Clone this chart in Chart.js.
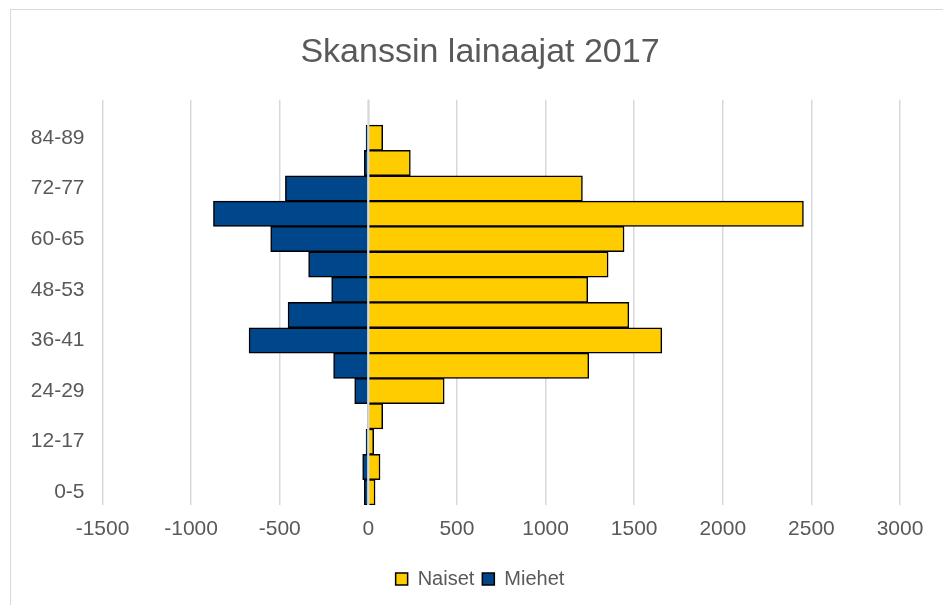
<!DOCTYPE html>
<html>
<head>
<meta charset="utf-8">
<script src="https://cdn.jsdelivr.net/npm/chart.js@4"></script>
<style>
  html, body { margin: 0; padding: 0; background: #fff; overflow: hidden; }
  #frame { position: absolute; left: 10px; top: 9px; width: 960px; height: 620px; border: 1px solid #d9d9d9; }
  #wrap { position: absolute; left: 0; top: 0; width: 960px; height: 605px; }
</style>
</head>
<body>
<div id="frame"></div>
<div id="wrap"><canvas id="pyramid"></canvas></div>
<script>
// ikäryhmät alhaalta ylös
const ageGroups = ['0-5', '6-11', '12-17', '18-23', '24-29', '30-35', '36-41', '42-47',
  '48-53', '54-59', '60-65', '66-71', '72-77', '78-83', '84-89', '90-95'];

const naiset = [38, 66, 30, 81, 428, 1244, 1656, 1470, 1238, 1353, 1443, 2455, 1208, 237, 81, 0];
const miehet = [-23, -32, -13, -2, -77, -196, -673, -453, -207, -337, -551, -874, -468, -23, -13, 0];

const xTicks = [-1500, -1000, -500, 0, 500, 1000, 1500, 2000, 2500, 3000];

const textColor = '#595959';
const gridColor = '#d9d9d9';

// pystyakseli nollan kohdalla palkkien päällä
const zeroLine = {
  id: 'zeroLine',
  afterDatasetsDraw: function (chart) {
    const ctx = chart.ctx;
    const x = chart.scales.x.getPixelForValue(0);
    ctx.save();
    ctx.strokeStyle = gridColor;
    ctx.lineWidth = 2;
    ctx.beginPath();
    ctx.moveTo(x, chart.chartArea.top);
    ctx.lineTo(x, chart.chartArea.bottom);
    ctx.stroke();
    ctx.restore();
  }
};

document.addEventListener('DOMContentLoaded', function () {
  Chart.defaults.font.family = '"Liberation Sans", Arial, sans-serif';
  Chart.defaults.color = textColor;

  const ctx = document.getElementById('pyramid').getContext('2d');

  new Chart(ctx, {
    type: 'bar',
    data: {
      labels: ageGroups,
      datasets: [{
        label: 'Naiset',
        data: naiset,
        backgroundColor: '#FFCC00',
        borderColor: '#000000',
        borderWidth: 1.5,
        categoryPercentage: 1,
        barPercentage: 1
      }, {
        label: 'Miehet',
        data: miehet,
        backgroundColor: '#00468B',
        borderColor: '#000000',
        borderWidth: 1.5,
        categoryPercentage: 1,
        barPercentage: 1
      }]
    },
    options: {
      indexAxis: 'y',
      responsive: true,
      maintainAspectRatio: false,
      animation: false,
      layout: {
        padding: { left: 10, right: 10, top: 0, bottom: 6 }
      },
      scales: {
        x: {
          stacked: true,
          min: -1500,
          max: 3282, // tyhjää tilaa oikealla 3000 jälkeen, niin otsikko keskittyy kehykseen
          afterBuildTicks: function (scale) {
            scale.ticks = xTicks.map(function (v) { return { value: v }; });
          },
          afterFit: function (scale) { scale.height = 56; },
          border: { display: false },
          grid: { color: gridColor, lineWidth: 1.5, drawTicks: false },
          ticks: {
            font: { size: 21 },
            color: textColor,
            padding: 12,
            callback: function (value) { return String(value); }
          }
        },
        y: {
          stacked: true,
          reverse: true,
          afterFit: function (scale) { scale.width = 92.5; },
          border: { display: false },
          grid: { display: false, drawTicks: false },
          ticks: {
            autoSkip: false,
            font: { size: 21 },
            color: textColor,
            padding: 18,
            callback: function (value, index) {
              return index % 2 === 0 ? this.getLabelForValue(value) : '';
            }
          }
        }
      },
      plugins: {
        title: {
          display: true,
          text: 'Skanssin lainaajat 2017',
          color: textColor,
          font: { size: 34, weight: 'normal' },
          padding: { top: 32, bottom: 27 }
        },
        legend: {
          display: true,
          position: 'bottom',
          labels: {
            boxWidth: 12,
            boxHeight: 12,
            padding: 8,
            font: { size: 20 },
            color: textColor
          }
        },
        tooltip: { enabled: false }
      }
    },
    plugins: [zeroLine]
  });
});
</script>
</body>
</html>
